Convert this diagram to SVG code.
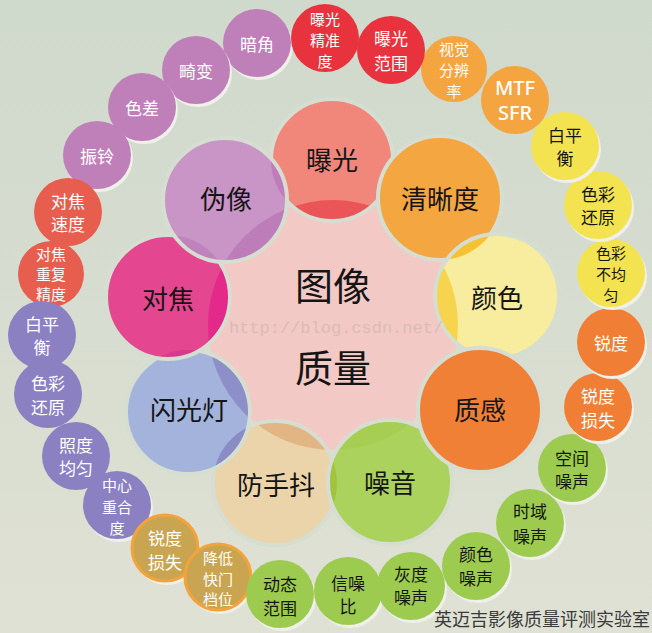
<svg xmlns="http://www.w3.org/2000/svg" width="652" height="633" viewBox="0 0 652 633">
<defs>
  <linearGradient id="bg" x1="0" y1="0" x2="0" y2="1">
    <stop offset="0" stop-color="#cfd9cc"/>
    <stop offset="1" stop-color="#dfe1d4"/>
  </linearGradient>
  <clipPath id="cp-pu"><circle cx="332" cy="160" r="61"/></clipPath>
  <clipPath id="cp-yan"><circle cx="497" cy="296" r="62"/></clipPath>
  <clipPath id="cp-fang"><circle cx="275" cy="483" r="62"/></clipPath>
  <clipPath id="cp-zao"><circle cx="390" cy="482" r="62"/></clipPath>
  <clipPath id="cp-shan"><circle cx="188" cy="412" r="62"/></clipPath>
  <clipPath id="cp-dui"><circle cx="168" cy="297" r="62"/></clipPath>
  <clipPath id="cp-wei"><circle cx="225" cy="200" r="62"/></clipPath>
</defs>
<style>
  .rim { fill: none; stroke: #d6ddd1; stroke-width: 4; }
  .big { font-family: "Noto Sans CJK SC", "Noto Sans", sans-serif; font-size: 26px; fill: #151515; text-anchor: middle; dominant-baseline: central; }
  .core { font-family: "Noto Sans CJK SC", "Noto Sans", sans-serif; font-size: 38px; fill: #151515; text-anchor: middle; dominant-baseline: central; }
  .s { font-family: "Noto Sans CJK SC", "Noto Sans", sans-serif; font-size: 17px; text-anchor: middle; dominant-baseline: central; }
  .s3 { font-family: "Noto Sans CJK SC", "Noto Sans", sans-serif; font-size: 15px; text-anchor: middle; dominant-baseline: central; }
  .w { fill: #ffffff; }
  .k { fill: #151515; }
  .sh { fill: #eef0e9; }
  .purple { fill: #bf7fb9; }
  .red { fill: #e8333e; }
  .orng { fill: #f4a540; }
  .yel { fill: #f3e350; }
  .org2 { fill: #f07f35; }
  .grn { fill: #9ccb4f; }
  .tan { fill: #c9a552; stroke: #f4a33c; stroke-width: 3; }
  .blu { fill: #8a80c2; }
  .ro { fill: #e85e4e; }
  .mtf { font-family: "Noto Sans", "Liberation Sans", sans-serif; font-size: 20px; font-weight: 500; fill: #ffffff; text-anchor: middle; dominant-baseline: central; }
</style>

<rect x="0" y="0" width="652" height="633" fill="url(#bg)"/>

<g id="core">
  <circle cx="333" cy="325" r="125" fill="#f2c9c4"/>
  <text class="core" x="333" y="283">图像</text>
  <text class="core" x="333" y="365">质量</text>
</g>

<g id="petal-puguang">
  <circle cx="332" cy="160" r="61" fill="#f1877b"/>
  <circle cx="333" cy="325" r="125" fill="#ea555a" clip-path="url(#cp-pu)"/>
  <circle class="rim" cx="332" cy="160" r="61"/>
  <text class="big" x="332" y="158">曝光</text>
</g>
<g id="petal-qingxidu">
  <circle cx="440" cy="198" r="62" fill="#f4a641"/>
  <circle class="rim" cx="440" cy="198" r="62"/>
  <text class="big" x="440" y="197">清晰度</text>
</g>
<g id="petal-yanse">
  <circle cx="497" cy="296" r="62" fill="#f8ec9e"/>
  <circle cx="333" cy="325" r="125" fill="#f7d44e" clip-path="url(#cp-yan)"/>
  <circle cx="440" cy="198" r="62" fill="#f5c232" clip-path="url(#cp-yan)"/>
  <circle class="rim" cx="497" cy="296" r="62"/>
  <text class="big" x="497" y="296">颜色</text>
</g>
<g id="petal-fangshoudou">
  <circle cx="275" cy="483" r="62" fill="#ebd4aa"/>
  <circle cx="333" cy="325" r="125" fill="#e2b584" clip-path="url(#cp-fang)"/>
  <circle class="rim" cx="275" cy="483" r="62"/>
  <text class="big" x="276" y="483">防手抖</text>
</g>
<g id="petal-zaoyin">
  <circle cx="390" cy="482" r="62" fill="#abd25c"/>
  <circle cx="333" cy="325" r="125" fill="#a5ce52" clip-path="url(#cp-zao)"/>
  <circle cx="275" cy="483" r="62" fill="#a2c43c" clip-path="url(#cp-zao)"/>
  <circle class="rim" cx="390" cy="482" r="62"/>
  <text class="big" x="390" y="481">噪音</text>
</g>
<g id="petal-zhigan">
  <circle cx="480" cy="410" r="62" fill="#f08036"/>
  <circle class="rim" cx="480" cy="410" r="62"/>
  <text class="big" x="480" y="408">质感</text>
</g>
<g id="petal-shanguangdeng">
  <circle cx="188" cy="412" r="62" fill="#a3b3db"/>
  <circle cx="333" cy="325" r="125" fill="#8d8fc9" clip-path="url(#cp-shan)"/>
  <circle cx="275" cy="483" r="62" fill="#8a8cc6" clip-path="url(#cp-shan)"/>
  <circle class="rim" cx="188" cy="412" r="62"/>
  <text class="big" x="189" y="408">闪光灯</text>
</g>
<g id="petal-duijiao">
  <circle cx="168" cy="297" r="62" fill="#e4468f"/>
  <circle cx="333" cy="325" r="125" fill="#e3298a" clip-path="url(#cp-dui)"/>
  <circle cx="188" cy="412" r="62" fill="#d93a8d" clip-path="url(#cp-dui)"/>
  <circle class="rim" cx="168" cy="297" r="62"/>
  <text class="big" x="168" y="297">对焦</text>
</g>
<g id="petal-weixiang">
  <circle cx="225" cy="200" r="62" fill="#c994c6"/>
  <circle cx="333" cy="325" r="125" fill="#bd7db8" clip-path="url(#cp-wei)"/>
  <circle cx="168" cy="297" r="62" fill="#c082bc" clip-path="url(#cp-wei)"/>
  <circle cx="332" cy="160" r="61" fill="#c07cba" clip-path="url(#cp-wei)"/>
  <circle class="rim" cx="225" cy="200" r="62"/>
  <text class="big" x="226" y="197">伪像</text>
</g>

<text x="336" y="328" font-family="Liberation Mono, monospace" font-size="17" fill="#a89d99" opacity="0.3" text-anchor="middle" dominant-baseline="central">http://blog.csdn.net/</text>

<!-- outer ring -->
<g id="n-anjiao"><circle class="sh" cx="259" cy="46" r="34"/><circle class="purple" cx="257" cy="43" r="34"/><text class="s w" x="257" y="43">暗角</text></g>
<g id="n-jibian"><circle class="sh" cx="198" cy="73" r="34"/><circle class="purple" cx="196" cy="70" r="34"/><text class="s w" x="196" y="70">畸变</text></g>
<g id="n-secha"><circle class="sh" cx="144" cy="110" r="34"/><circle class="purple" cx="142" cy="107" r="34"/><text class="s w" x="142" y="107">色差</text></g>
<g id="n-zhenling"><circle class="sh" cx="99" cy="158" r="34"/><circle class="purple" cx="97" cy="155" r="34"/><text class="s w" x="97" y="155">振铃</text></g>
<g id="n-duijiaosudu"><circle class="ro" cx="68" cy="212" r="34"/><text class="s w" x="68" y="200">对焦</text><text class="s w" x="68" y="223">速度</text></g>
<g id="n-duijiaochongfu"><circle class="ro" cx="51" cy="274" r="33"/><text class="s3 w" x="51" y="253">对焦</text><text class="s3 w" x="51" y="273">重复</text><text class="s3 w" x="51" y="293">精度</text></g>
<g id="n-baipingheng-l"><circle class="blu" cx="42" cy="335" r="34"/><text class="s w" x="42" y="323">白平</text><text class="s w" x="42" y="346">衡</text></g>
<g id="n-secaihuanyuan-l"><circle class="blu" cx="48" cy="394" r="34"/><text class="s w" x="48" y="382">色彩</text><text class="s w" x="48" y="406">还原</text></g>
<g id="n-zhaodujunyun"><circle class="blu" cx="76" cy="456" r="34"/><text class="s w" x="76" y="444">照度</text><text class="s w" x="76" y="467">均匀</text></g>
<g id="n-zhongxinchonghedu"><circle class="sh" cx="119" cy="508" r="34"/><circle class="blu" cx="117" cy="505" r="34"/><text class="s3 w" x="117" y="484">中心</text><text class="s3 w" x="117" y="506">重合</text><text class="s3 w" x="117" y="527">度</text></g>
<g id="n-ruidusunshi-l"><circle class="sh" cx="167" cy="551" r="34"/><circle class="tan" cx="165" cy="548" r="33"/><text class="s w" x="165" y="537">锐度</text><text class="s w" x="165" y="561">损失</text></g>
<g id="n-jiangdikuaimen"><circle class="sh" cx="220" cy="580" r="34"/><circle class="tan" cx="218" cy="577" r="33"/><text class="s3 w" x="218" y="557">降低</text><text class="s3 w" x="218" y="578">快门</text><text class="s3 w" x="218" y="598">档位</text></g>
<g id="n-dongtaifanwei"><circle class="sh" cx="282" cy="597" r="34"/><circle class="grn" cx="280" cy="594" r="34"/><text class="s k" x="280" y="583">动态</text><text class="s k" x="280" y="607">范围</text></g>
<g id="n-xinzaobi"><circle class="sh" cx="350" cy="594" r="34"/><circle class="grn" cx="348" cy="591" r="34"/><text class="s k" x="348" y="582">信噪</text><text class="s k" x="348" y="605">比</text></g>
<g id="n-huiduzaosheng"><circle class="sh" cx="413" cy="589" r="34"/><circle class="grn" cx="411" cy="586" r="34"/><text class="s k" x="411" y="573">灰度</text><text class="s k" x="411" y="596">噪声</text></g>
<g id="n-yansezaosheng"><circle class="sh" cx="478" cy="569" r="34"/><circle class="grn" cx="476" cy="566" r="34"/><text class="s k" x="476" y="553">颜色</text><text class="s k" x="476" y="577">噪声</text></g>
<g id="n-shiyuzaosheng"><circle class="sh" cx="532" cy="526" r="34"/><circle class="grn" cx="530" cy="523" r="34"/><text class="s k" x="530" y="510">时域</text><text class="s k" x="530" y="535">噪声</text></g>
<g id="n-kongjianzaosheng"><circle class="sh" cx="574" cy="471" r="34"/><circle class="grn" cx="572" cy="468" r="34"/><text class="s k" x="572" y="457">空间</text><text class="s k" x="572" y="480">噪声</text></g>
<g id="n-ruidusunshi-r"><circle class="sh" cx="600" cy="410" r="34"/><circle class="org2" cx="598" cy="407" r="34"/><text class="s w" x="598" y="395">锐度</text><text class="s w" x="598" y="419">损失</text></g>
<g id="n-ruidu"><circle class="sh" cx="613" cy="345" r="34"/><circle class="org2" cx="611" cy="342" r="34"/><text class="s w" x="611" y="342">锐度</text></g>
<g id="n-secaibujunyun"><circle class="sh" cx="613" cy="276" r="34"/><circle class="yel" cx="611" cy="273" r="34"/><text class="s3 k" x="611" y="252">色彩</text><text class="s3 k" x="611" y="273">不均</text><text class="s3 k" x="611" y="294">匀</text></g>
<g id="n-secaihuanyuan-r"><circle class="sh" cx="600" cy="208" r="34"/><circle class="yel" cx="598" cy="205" r="34"/><text class="s k" x="598" y="193">色彩</text><text class="s k" x="598" y="216">还原</text></g>
<g id="n-baipingheng-r"><circle class="sh" cx="567" cy="149" r="34"/><circle class="yel" cx="565" cy="146" r="34"/><text class="s k" x="565" y="134">白平</text><text class="s k" x="565" y="157">衡</text></g>
<g id="n-mtf"><circle class="orng" cx="515" cy="100" r="34"/><text class="mtf" x="515" y="87">MTF</text><text class="mtf" x="515" y="112">SFR</text></g>
<g id="n-shijuefenbianlv"><circle class="orng" cx="454" cy="69" r="33"/><text class="s3 w" x="454" y="48">视觉</text><text class="s3 w" x="454" y="69">分辨</text><text class="s3 w" x="454" y="90">率</text></g>
<g id="n-puguangfanwei"><circle class="red" cx="391" cy="50" r="34"/><text class="s w" x="391" y="37">曝光</text><text class="s w" x="391" y="62">范围</text></g>
<g id="n-puguangjingzhundu"><circle class="red" cx="325" cy="38" r="34"/><text class="s3 w" x="325" y="18">曝光</text><text class="s3 w" x="325" y="39">精准</text><text class="s3 w" x="325" y="60">度</text></g>

<text x="542" y="618" font-family="Noto Sans CJK SC, sans-serif" font-size="18" fill="#3a3a3a" text-anchor="middle" dominant-baseline="central">英迈吉影像质量评测实验室</text>
</svg>
